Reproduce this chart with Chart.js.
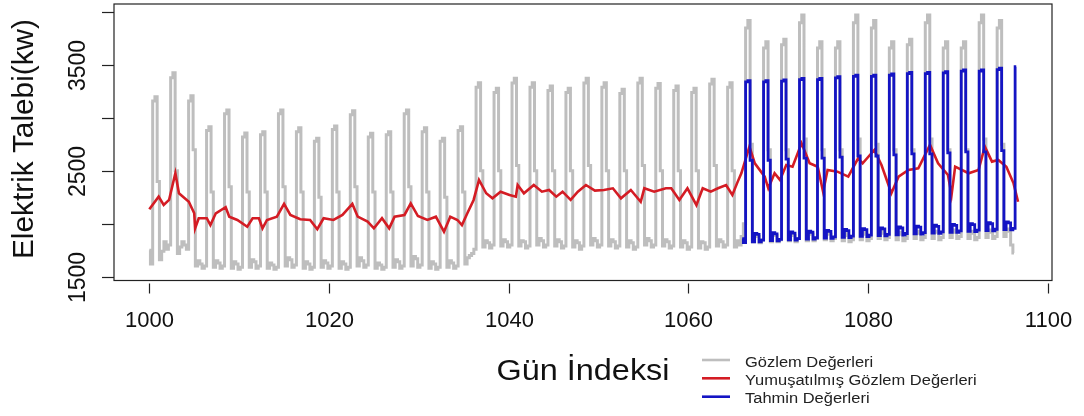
<!DOCTYPE html>
<html><head><meta charset="utf-8">
<script src="https://cdn.jsdelivr.net/npm/chart.js@4.4.0/dist/chart.umd.min.js"></script>
<style>html,body{margin:0;padding:0;background:#fff}#wrap{width:1084px;height:416px;position:relative}</style>
</head><body><div id="wrap"><canvas id="c"></canvas></div>
<script>
// ---- data ----
const gozlemBaslangic = 1000;   // first x of observed series
const tahminBaslangic = 1066;   // first x of forecast series
const adim = 0.25;              // sampling step (days)

const gozlemDegerleri = [
 1750,1620,
 3160,3200,2400,1660,1740,1830,1760,1800,
 3380,3427,2500,1720,1780,1830,1800,1760,
 3160,3210,2700,1600,1650,1620,1580,1600,
 2880,2917,2300,1590,1650,1630,1580,1600,
 3040,3075,2350,1580,1640,1620,1570,1590,
 2820,2857,2300,1590,1660,1640,1580,1600,
 2840,2870,2300,1580,1630,1610,1570,1590,
 3040,3075,2350,1600,1680,1660,1590,1610,
 2870,2908,2300,1580,1640,1620,1570,1590,
 2780,2807,2250,1590,1650,1630,1580,1600,
 2890,2924,2300,1580,1640,1620,1570,1590,
 3030,3068,2350,1600,1680,1650,1590,1610,
 2820,2855,2300,1580,1630,1610,1570,1590,
 2840,2870,2300,1590,1660,1640,1580,1600,
 3040,3075,2350,1600,1690,1670,1590,1610,
 2870,2908,2300,1580,1640,1620,1570,1590,
 2780,2807,2250,1590,1650,1630,1580,1600,
 2880,2917,2300,1620,1680,1700,1720,1760,
 3290,3333,2500,1780,1840,1820,1770,1800,
 3240,3280,2500,1790,1850,1830,1780,1800,
 3330,3374,2550,1790,1840,1830,1770,1790,
 3290,3333,2500,1800,1860,1840,1780,1800,
 3260,3302,2500,1790,1850,1830,1770,1790,
 3240,3280,2500,1780,1840,1820,1760,1790,
 3330,3374,2550,1800,1860,1840,1780,1800,
 3290,3333,2500,1790,1850,1830,1770,1790,
 3230,3270,2500,1780,1840,1820,1760,1780,
 3330,3374,2550,1800,1860,1840,1780,1800,
 3280,3325,2500,1790,1850,1830,1770,1790,
 3260,3302,2500,1780,1840,1820,1760,1780,
 3240,3280,2500,1770,1830,1820,1760,1780,
 3320,3365,2550,1790,1850,1830,1780,1800,
 3290,3333,2500,1780,1840,1800,1880,2000,
 3850,3919,2750,1830,1900,1880,1820,1850,
 3660,3720,2700,1830,1900,1890,1830,1850,
 3690,3743,2700,1840,1910,1890,1830,1860,
 3900,3972,2800,1840,1910,1900,1840,1860,
 3660,3720,2700,1850,1920,1900,1840,1860,
 3660,3720,2700,1840,1910,1890,1830,1850,
 3900,3972,2800,1850,1920,1900,1840,1860,
 3850,3919,2750,1860,1930,1910,1850,1870,
 3660,3720,2700,1850,1920,1900,1840,1860,
 3690,3743,2700,1860,1930,1910,1850,1870,
 3900,3972,2800,1860,1930,1920,1850,1870,
 3660,3720,2700,1870,1940,1920,1860,1880,
 3660,3720,2700,1860,1930,1910,1850,1870,
 3900,3972,2800,1870,1940,1920,1860,1880,
 3850,3919,2750,1880,1950,1930,1800,1723
];

const tahminDegerleri = [
 1860,1821,
 3340,3352,2600,1830,1910,1900,1830,1845,
 3340,3352,2600,1840,1915,1905,1838,1852,
 3348,3360,2610,1848,1922,1912,1846,1860,
 3362,3374,2620,1856,1930,1920,1854,1868,
 3362,3374,2620,1864,1938,1928,1862,1876,
 3378,3390,2630,1872,1946,1936,1870,1884,
 3393,3405,2640,1880,1954,1944,1878,1892,
 3393,3405,2640,1888,1962,1952,1886,1900,
 3403,3415,2650,1896,1970,1960,1894,1908,
 3419,3431,2660,1904,1978,1968,1902,1916,
 3419,3431,2660,1912,1986,1976,1910,1924,
 3425,3437,2670,1920,1994,1984,1918,1932,
 3441,3453,2680,1928,2002,1992,1926,1940,
 3441,3453,2680,1936,2010,2000,1934,1948,
 3457,3469,2690,1944,2018,2008,1942,1956,
 3484
];

const yumusatilmisX = [
 1000.0,1001.04,1001.6,1002.2,1002.9,1003.3,1004.4,1005.0,1005.1,1005.5,
 1006.4,1006.8,1007.4,1008.5,1008.9,1009.8,1010.9,1011.5,1012.2,1012.6,
 1013.1,1014.2,1015.0,1015.7,1016.8,1017.9,1018.7,1019.4,1020.5,1021.5,
 1022.6,1023.2,1024.3,1025.0,1025.9,1026.7,1027.3,1028.4,1029.1,1029.9,
 1030.95,1031.9,1032.8,1033.5,1034.3,1034.8,1035.4,1036.1,1036.7,1037.5,
 1038.2,1039.1,1040.1,1040.8,1041.0,1041.7,1042.8,1043.7,1044.5,1045.3,
 1046.0,1046.9,1047.7,1048.6,1049.6,1050.6,1051.6,1052.5,1053.6,1054.7,
 1055.1,1056.2,1057.5,1058.1,1059.0,1059.9,1060.9,1061.6,1062.5,1063.3,
 1064.2,1064.9,1065.5,1065.9,1066.8,1067.4,1068.5,1068.9,1069.6,1070.2,
 1070.9,1071.6,1072.6,1073.5,1074.4,1075.0,1075.5,1076.6,1077.8,1078.9,
 1079.4,1080.7,1081.5,1082.6,1083.4,1084.5,1085.6,1086.9,1087.8,1088.9,
 1089.3,1089.7,1091.2,1092.3,1093.0,1093.8,1094.5,1095.4,1096.2,1096.7
];
const yumusatilmisY = [
 2137,2256,2177,2225,2477,2288,2208,2099,1957,2052,
 2052,1988,2099,2156,2067,2036,1972,2052,2052,1957,
 2036,2067,2187,2083,2042,2036,1948,2052,2036,2083,
 2187,2067,2020,1957,2052,1957,2067,2083,2193,2073,
 2036,2067,1925,2067,2036,1988,2099,2225,2414,2288,
 2240,2303,2272,2256,2366,2288,2366,2303,2319,2256,
 2303,2225,2303,2366,2313,2319,2335,2240,2319,2208,
 2335,2303,2335,2335,2225,2335,2177,2335,2303,2335,
 2366,2272,2398,2477,2729,2571,2445,2335,2477,2414,
 2555,2539,2760,2571,2539,2303,2508,2492,2445,2618,
 2571,2697,2555,2288,2445,2508,2524,2745,2571,2461,
 2272,2539,2477,2508,2729,2587,2602,2539,2382,2208
];

const xTicks = [1000,1020,1040,1060,1080,1100];
const yTicks = [1500,2000,2500,3000,3500,4000];
const yTickLabels = ['1500','','2500','','3500',''];
const seriesNames = ['Gözlem Değerleri','Yumuşatılmış Gözlem Değerleri','Tahmin Değerleri'];
const xTitle = 'Gün İndeksi';
const yTitle = 'Elektrik Talebi(kw)';

// ---- build datasets ----
const gozlemPts = gozlemDegerleri.map((v,i)=>({x:gozlemBaslangic+i*adim, y:v}));
const tahminPts = tahminDegerleri.map((v,i)=>({x:tahminBaslangic+i*adim, y:v}));
const yumPts = yumusatilmisX.map((x,i)=>({x:x, y:yumusatilmisY[i]}));

const COL_GRAY='#bebebe', COL_RED='#d41c24', COL_BLUE='#1414c4';
const FONT='"Liberation Sans", Arial, sans-serif';

function stretchText(ctx, str, x, y, px, targetW, align){
  ctx.save();
  ctx.font = px+'px '+FONT;
  const w = ctx.measureText(str).width;
  const s = targetW ? targetW/w : 1;
  ctx.translate(x, y);
  ctx.scale(s, 1);
  ctx.textAlign = align||'left';
  ctx.textBaseline = 'alphabetic';
  ctx.fillText(str, 0, 0);
  ctx.restore();
  return s;
}

const decor = {
  id:'decor',
  afterDraw(chart){
    const ctx = chart.ctx, a = chart.chartArea;
    const xs = chart.scales.x, ys = chart.scales.y;
    ctx.save();
    ctx.strokeStyle = '#222'; ctx.lineWidth = 1.2;
    ctx.strokeRect(a.left, a.top, a.right-a.left, a.bottom-a.top);
    ctx.fillStyle = '#111';
    // x ticks
    xTicks.forEach(t=>{
      const px = Math.round(xs.getPixelForValue(t))+0.5;
      ctx.beginPath(); ctx.moveTo(px, a.bottom+3); ctx.lineTo(px, a.bottom+13); ctx.stroke();
      ctx.font = '22px '+FONT; ctx.textAlign='center'; ctx.textBaseline='alphabetic';
      ctx.fillText(String(t), px, 327);
    });
    // y ticks
    yTicks.forEach((t,i)=>{
      const py = Math.round(ys.getPixelForValue(t))+0.5;
      ctx.beginPath(); ctx.moveTo(a.left-12, py); ctx.lineTo(a.left, py); ctx.stroke();
      if (yTickLabels[i]) {
        ctx.save(); ctx.translate(85, py); ctx.rotate(-Math.PI/2);
        ctx.font = '23px '+FONT; ctx.textAlign='center'; ctx.textBaseline='alphabetic';
        ctx.fillText(yTickLabels[i], 0, 0); ctx.restore();
      }
    });
    // y title
    ctx.save(); ctx.translate(33, 139); ctx.rotate(-Math.PI/2);
    stretchText(ctx, yTitle, 0, 0, 30, 240, 'center'); ctx.restore();
    // x title
    stretchText(ctx, xTitle, 583, 380, 29, 173, 'center');
    // legend
    const cols=[COL_GRAY, COL_RED, COL_BLUE];
    const ly=[360, 378.3, 396.7], lb=[366.7, 385, 403.3];
    ctx.font = '14px '+FONT;
    const sc = 231.7/ctx.measureText(seriesNames[1]).width;
    seriesNames.forEach((n,i)=>{
      ctx.strokeStyle = cols[i]; ctx.lineWidth = 2.6;
      ctx.beginPath(); ctx.moveTo(702, ly[i]); ctx.lineTo(730, ly[i]); ctx.stroke();
      ctx.save(); ctx.fillStyle='#222'; ctx.translate(745, lb[i]); ctx.scale(sc,1);
      ctx.font = '14px '+FONT; ctx.textAlign='left'; ctx.fillText(n, 0, 0); ctx.restore();
    });
    ctx.restore();
  }
};

new Chart(document.getElementById('c'), {
  type:'line',
  data:{ datasets:[
    {label:seriesNames[2], data:tahminPts, borderColor:COL_BLUE, borderWidth:2.8, stepped:'middle', pointRadius:0, order:0},
    {label:seriesNames[1], data:yumPts, borderColor:COL_RED, borderWidth:2.6, pointRadius:0, tension:0, order:1},
    {label:seriesNames[0], data:gozlemPts, borderColor:COL_GRAY, borderWidth:3, stepped:'middle', pointRadius:0, order:2}
  ]},
  options:{
    responsive:true, maintainAspectRatio:false, animation:false,
    layout:{padding:{left:114, right:32, top:4, bottom:135.5}},
    scales:{
      x:{type:'linear', min:996.07, max:1100.48, display:false},
      y:{type:'linear', min:1464, max:4076, display:false}
    },
    plugins:{legend:{display:false}, tooltip:{enabled:false}}
  },
  plugins:[decor]
});
</script></body></html>
